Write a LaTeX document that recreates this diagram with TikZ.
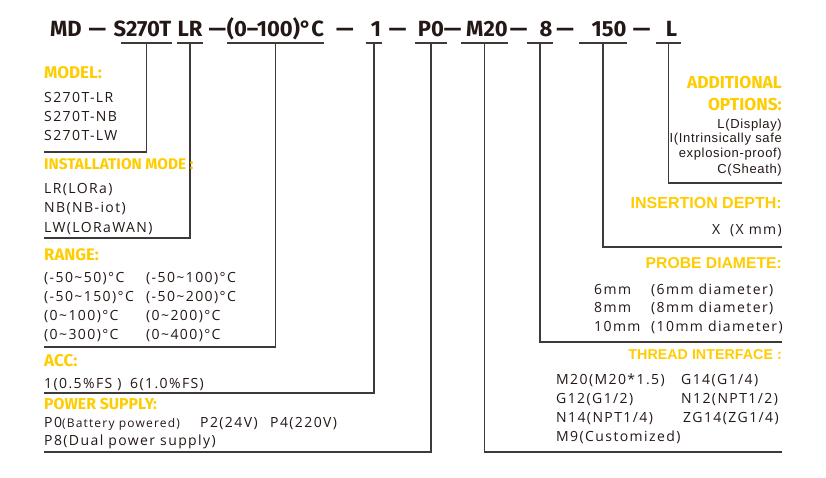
\documentclass[tikz,border=0pt]{standalone}
\usepackage{fontspec}
\setmainfont{Open Sans}
\newfontfamily\codefont{Fira Sans}
\newfontfamily\headfont{Liberation Sans}
\newfontfamily\bodyfont[LetterSpace=10]{Open Sans}
\newfontfamily\rightfont[LetterSpace=5]{Liberation Sans}
\definecolor{ink}{HTML}{231815}
\definecolor{gold}{HTML}{FFCC00}
\definecolor{wire}{HTML}{3E3A39}
\newcommand\rtilde{\textasciitilde}
\newcommand\degc{°C}

\tikzset{
  code/.style={font=\codefont\bfseries\fontsize{22}{22}\selectfont, text=ink, inner xsep=0pt, inner ysep=0pt, text height=17pt, text depth=6pt, anchor=base},
  tshift/.style={execute at begin node=\hspace*{#1}},
  head/.style={font=\headfont\bfseries\fontsize{#1}{#1}\selectfont, text=gold, inner sep=0pt},
  lhead/.style={font=\codefont\bfseries\fontsize{#1}{#1}\selectfont, text=gold, inner sep=0pt},
  body/.style={font=\bodyfont\fontsize{14}{14}\selectfont, text=ink, inner sep=0pt, anchor=base west},
  rbody/.style={font=\rightfont\fontsize{13}{13}\selectfont, text=ink, inner sep=0pt, anchor=base east},
  lead/.style={draw=wire, line width=1.4pt}
}

\begin{document}
\begin{tikzpicture}[x=1pt,y=-1pt]
\useasboundingbox (0,0) rectangle (826,478);
%\draw [lightgray] (0,0) grid[step=50] (826,478);

% order code
\node [code] (md) at (66,37) {MD};
\foreach \x/\n in {97.5/1,217.5/2,345/3,397.5/4,452.5/5,518.5/6,565/7,641.5/8}
  \node [code] (dash\n) at (\x,37) {—};
\node [code, minimum width=43pt, tshift=-8pt] (s270t) at (146.5,37) {S270T};
\node [code, minimum width=24pt] (lr) at (190,37) {LR};
\node [code, minimum width=93pt] (rng) at (275.5,37) {(0–100)\degc};
\node [code, minimum width=16pt, tshift=4pt] (acc) at (374,37) {1};
\node [code, minimum width=32pt] (pwr) at (431,37) {P0};
\node [code, minimum width=41pt, tshift=5pt] (thr) at (484.5,37) {M20};
\node [code, minimum width=14pt, tshift=12pt] (prb) at (540,37) {8};
\node [code, minimum width=38pt, tshift=12pt] (dep) at (603,37) {150};
\node [code, minimum width=25pt, tshift=6pt] (opt) at (668.5,37) {L};

% underlines
\foreach \t in {s270t,lr,rng,acc,pwr,thr,prb,dep,opt}
  \draw [lead] (\t.south west) -- (\t.south east);

% line ends
\coordinate (modelEnd) at (44,152);
\coordinate (modeEnd) at (44,238);
\coordinate (rangeEnd) at (44,347);
\coordinate (accEnd) at (44,393);
\coordinate (pwrEnd) at (44,452);
\coordinate (thrEnd) at (782,452);
\coordinate (prbEnd) at (782,342);
\coordinate (depEnd) at (782,247);
\coordinate (optEnd) at (782,183);

\draw [lead] (s270t.south) |- (modelEnd);
\draw [lead] (lr.south) |- (modeEnd);
\draw [lead] (rng.south) |- (rangeEnd);
\draw [lead] (acc.south) |- (accEnd);
\draw [lead] (pwr.south) |- (pwrEnd);
\draw [lead] (thr.south) |- (thrEnd);
\draw [lead] (prb.south) |- (prbEnd);
\draw [lead] (dep.south) |- (depEnd);
\draw [lead] (opt.south) |- (optEnd);

% left blocks
\node [lhead=17, anchor=base west] (modelHd) at (44,79) {MODEL:};
\node [body] (model1) at (44,103) {S270T-LR};
\node [body] (model2) at (44,122) {S270T-NB};
\node [body] (model3) at (44,141) {S270T-LW};

\node [lhead=15.4, anchor=base west] (modeHd) at (44,170) {INSTALLATION MODE :};
\node [body] (mode1) at (44,194) {LR(LORa)};
\node [body] (mode2) at (44,213) {NB(NB-iot)};
\node [body] (mode3) at (44,233) {LW(LORaWAN)};

\node [lhead=16.7, anchor=base west] (rangeHd) at (44,260) {RANGE:};
\node [body] (range1) at (44,282) {(-50\rtilde50)\degc};
\node [body] (range2) at (146,282) {(-50\rtilde100)\degc};
\node [body] (range3) at (44,301) {(-50\rtilde150)\degc};
\node [body] (range4) at (146,301) {(-50\rtilde200)\degc};
\node [body] (range5) at (44,320) {(0\rtilde100)\degc};
\node [body] (range6) at (146,320) {(0\rtilde200)\degc};
\node [body] (range7) at (44,339) {(0\rtilde300)\degc};
\node [body] (range8) at (146,339) {(0\rtilde400)\degc};

\node [lhead=17, anchor=base west] (accHd) at (44,366) {ACC:};
\node [body] (acc1) at (44,388) {1(0.5\%FS )};
\node [body] (acc2) at (130,388) {6(1.0\%FS)};

\node [lhead=15.8, anchor=base west] (pwrHd) at (44,409) {POWER SUPPLY:};
\node [body] (pwr1) at (44,427) {P0{\fontsize{12}{12}\selectfont(Battery powered)}};
\node [body] (pwr2) at (200,427) {P2(24V)};
\node [body] (pwr3) at (270,427) {P4(220V)};
\node [body] (pwr4) at (44,445) {P8(Dual power supply)};

% right blocks
\node [lhead=17.3, anchor=base east] (optHd1) at (782,89) {ADDITIONAL};
\node [lhead=17.3, anchor=base east] (optHd2) at (782,111) {OPTIONS:};
\node [rbody] (opt1) at (782,129) {L(Display)};
\node [rbody] (opt2) at (782,143) {I(Intrinsically safe};
\node [rbody] (opt3) at (782,158) {explosion-proof)};
\node [rbody] (opt4) at (782,174) {C(Sheath)};

\node [head=16, anchor=base east] (depHd) at (782,209) {INSERTION DEPTH:};
\node [body, anchor=base east] (dep1) at (782,234) {X\ \ (X mm)};

\node [head=15.7, anchor=base east] (prbHd) at (782,268) {PROBE DIAMETE:};
\node [body] (prb1) at (594,294) {6mm};
\node [body] (prb2) at (651,294) {(6mm diameter)};
\node [body] (prb3) at (594,312) {8mm};
\node [body] (prb4) at (651,312) {(8mm diameter)};
\node [body] (prb5) at (594,331) {10mm};
\node [body] (prb6) at (651,331) {(10mm diameter)};

\node [head=14.3, anchor=base east] (thrHd) at (782,359) {THREAD INTERFACE :};
\node [body] (thr1) at (556,384) {M20(M20*1.5)};
\node [body] (thr2) at (681,384) {G14(G1/4)};
\node [body] (thr3) at (556,403) {G12(G1/2)};
\node [body] (thr4) at (681,403) {N12(NPT1/2)};
\node [body] (thr5) at (556,422) {N14(NPT1/4)};
\node [body] (thr6) at (683,422) {ZG14(ZG1/4)};
\node [body] (thr7) at (556,441) {M9(Customized)};

\end{tikzpicture}
\end{document}
